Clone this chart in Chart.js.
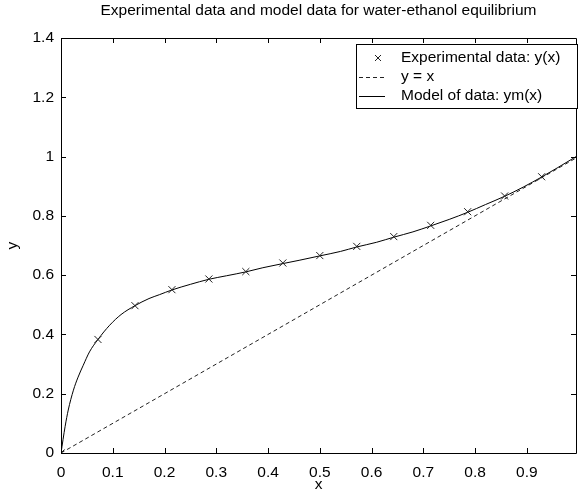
<!DOCTYPE html>
<html>
<head>
    <title>Water-ethanol equilibrium</title>
    <meta charset="utf-8" />
    <script src="https://cdn.jsdelivr.net/npm/chart.js"></script>
    <style>
        body { margin: 0; background: #fff; }
        #wrap { width: 582px; height: 495px; }
    </style>
</head>
<body>
    <div id="wrap"><canvas id="chart" width="582" height="495"></canvas></div>

    <script>
        // Experimental points
        const expX = [0, 0.0714, 0.1429, 0.2143, 0.2857, 0.3571, 0.4286, 0.5, 0.5714, 0.6429, 0.7143, 0.7857, 0.8571, 0.9286];
        const expY = [0, 0.383, 0.497, 0.551, 0.587, 0.612, 0.641, 0.666, 0.697, 0.730, 0.768, 0.814, 0.867, 0.932];

        // Model curve ym(x)
        const modelX = [0, 0.008, 0.014, 0.024, 0.033, 0.043, 0.055, 0.0714, 0.094, 0.116, 0.1429, 0.17, 0.19, 0.2143, 0.25, 0.2857,
                        0.32, 0.3571, 0.39, 0.4286, 0.46, 0.5, 0.54, 0.5714, 0.61, 0.6429, 0.68, 0.7143, 0.75, 0.7857, 0.82, 0.8571,
                        0.893, 0.9286, 0.96, 1.0];
        const modelY = [0, 0.09, 0.145, 0.212, 0.256, 0.296, 0.341, 0.383, 0.431, 0.467, 0.497, 0.521, 0.534, 0.55, 0.569, 0.586,
                        0.598, 0.611, 0.625, 0.639, 0.65, 0.665, 0.68, 0.695, 0.711, 0.728, 0.746, 0.766, 0.788, 0.812, 0.838, 0.866,
                        0.897, 0.931, 0.963, 1.005];

        // y = x reference line
        const diagX = [0, 1];
        const diagY = [0, 1];

        const xTicks = [0, 0.1, 0.2, 0.3, 0.4, 0.5, 0.6, 0.7, 0.8, 0.9];
        const yTicks = [0, 0.2, 0.4, 0.6, 0.8, 1, 1.2, 1.4];

        const legendItems = ['Experimental data: y(x)', 'y = x', 'Model of data: ym(x)'];

        const FONT = 'Liberation Sans, Arial, Helvetica, sans-serif';
        const SIZE = 15.5;
        const pts = (xs, ys) => xs.map((x, i) => ({x: x, y: ys[i]}));

        // box round the plot, inward ticks on all four sides, and the legend
        const frame = {
            id: 'frame',
            afterDraw(chart) {
                const ctx = chart.ctx;
                const a = chart.chartArea;
                const sx = chart.scales.x, sy = chart.scales.y;
                ctx.save();
                ctx.strokeStyle = '#000';
                ctx.lineWidth = 1;
                ctx.beginPath();
                ctx.rect(Math.round(a.left) + 0.5, Math.round(a.top) + 0.5, a.right - a.left, a.bottom - a.top);
                xTicks.forEach(v => {
                    const px = Math.round(sx.getPixelForValue(v)) + 0.5;
                    ctx.moveTo(px, a.bottom); ctx.lineTo(px, a.bottom - 5);
                    ctx.moveTo(px, a.top); ctx.lineTo(px, a.top + 5);
                });
                yTicks.forEach(v => {
                    const py = Math.round(sy.getPixelForValue(v)) + 0.5;
                    ctx.moveTo(a.left, py); ctx.lineTo(a.left + 5, py);
                    ctx.moveTo(a.right, py); ctx.lineTo(a.right - 5, py);
                });
                ctx.stroke();

                // legend box
                const lx = 356, ly = 44, lw = 221, lh = 64;
                ctx.fillStyle = '#fff';
                ctx.fillRect(lx, ly, lw, lh);
                ctx.strokeRect(lx + 0.5, ly + 0.5, lw, lh);
                const rows = [58, 77, 96];
                ctx.font = SIZE + 'px ' + FONT;
                ctx.fillStyle = '#000';
                ctx.textBaseline = 'middle';
                legendItems.forEach((t, i) => ctx.fillText(t, 401, rows[i]));
                // samples
                ctx.strokeStyle = '#222';
                ctx.beginPath();
                ctx.moveTo(375, rows[0] - 3); ctx.lineTo(381, rows[0] + 3);
                ctx.moveTo(381, rows[0] - 3); ctx.lineTo(375, rows[0] + 3);
                ctx.stroke();
                ctx.setLineDash([4, 3]);
                ctx.beginPath();
                ctx.moveTo(359, rows[1] + 0.5); ctx.lineTo(385, rows[1] + 0.5);
                ctx.stroke();
                ctx.setLineDash([]);
                ctx.strokeStyle = '#000';
                ctx.beginPath();
                ctx.moveTo(359, rows[2] + 0.5); ctx.lineTo(385, rows[2] + 0.5);
                ctx.stroke();
                ctx.restore();
            }
        };

        new Chart(document.getElementById('chart'), {
            type: 'scatter',
            data: {
                datasets: [
                    {
                        label: legendItems[0],
                        data: pts(expX, expY),
                        pointStyle: 'crossRot',
                        pointRadius: 5,
                        borderColor: '#222',
                        borderWidth: 1,
                        showLine: false
                    },
                    {
                        label: legendItems[1],
                        data: pts(diagX, diagY),
                        showLine: true,
                        pointRadius: 0,
                        borderColor: '#222',
                        borderWidth: 1,
                        borderDash: [4, 3]
                    },
                    {
                        label: legendItems[2],
                        data: pts(modelX, modelY),
                        showLine: true,
                        pointRadius: 0,
                        borderColor: '#000',
                        borderWidth: 1,
                        cubicInterpolationMode: 'monotone'
                    }
                ]
            },
            options: {
                responsive: false,
                animation: false,
                layout: { padding: { left: 0, right: 0, top: 0, bottom: 0 } },
                plugins: {
                    legend: { display: false },
                    tooltip: { enabled: false },
                    title: {
                        display: true,
                        fullSize: false,
                        text: 'Experimental data and model data for water-ethanol equilibrium',
                        color: '#000',
                        font: { family: FONT, size: SIZE, weight: 'normal', lineHeight: 1.2 },
                        padding: { top: 1.7, bottom: 17.7 }
                    }
                },
                scales: {
                    x: {
                        type: 'linear',
                        min: 0,
                        max: 0.995,
                        afterBuildTicks: s => { s.ticks = xTicks.map(v => ({value: v})); },
                        afterFit: s => { s.height = 42; },
                        grid: { display: false, drawTicks: false },
                        border: { display: false },
                        ticks: {
                            color: '#000',
                            padding: 10,
                            maxRotation: 0,
                            font: { family: FONT, size: SIZE },
                            callback: v => String(+v.toFixed(1))
                        },
                        title: {
                            display: true,
                            text: 'x',
                            color: '#000',
                            font: { family: FONT, size: SIZE },
                            padding: { top: 0, bottom: 0.5 }
                        }
                    },
                    y: {
                        type: 'linear',
                        min: 0,
                        max: 1.4,
                        afterBuildTicks: s => { s.ticks = yTicks.map(v => ({value: v})); },
                        afterFit: s => { s.width = 61; },
                        grid: { display: false, drawTicks: false },
                        border: { display: false },
                        ticks: {
                            color: '#000',
                            padding: 7,
                            font: { family: FONT, size: SIZE },
                            callback: v => String(+v.toFixed(1))
                        },
                        title: {
                            display: true,
                            text: 'y',
                            color: '#000',
                            font: { family: FONT, size: SIZE },
                            padding: { top: 3.7, bottom: 0 }
                        }
                    }
                }
            },
            plugins: [frame]
        });
    </script>
</body>
</html>
